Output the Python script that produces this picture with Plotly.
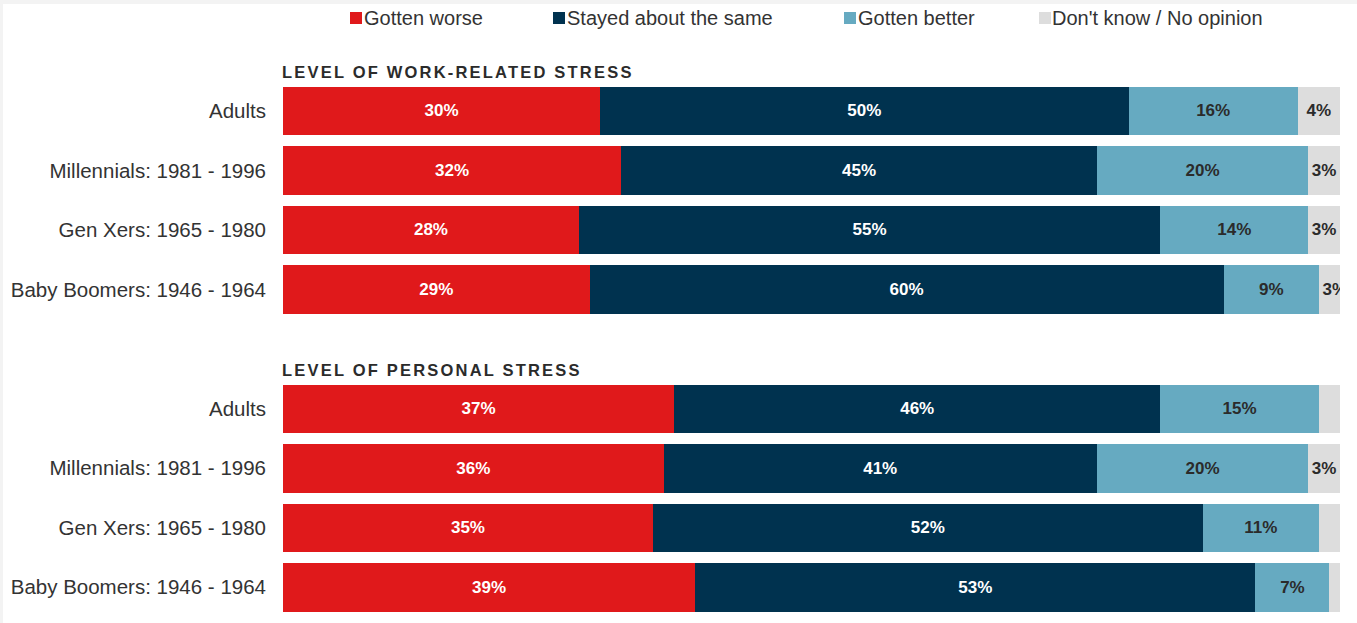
import plotly.graph_objects as go

# ---- data ----
groups = ["Adults", "Millennials: 1981 - 1996", "Gen Xers: 1965 - 1980", "Baby Boomers: 1946 - 1964"]
series_names = ["Gotten worse", "Stayed about the same", "Gotten better", "Don't know / No opinion"]

work_worse = [30, 32, 28, 29]
work_same = [50, 45, 55, 60]
work_better = [16, 20, 14, 9]
work_dk = [4, 3, 3, 3]

personal_worse = [37, 36, 35, 39]
personal_same = [46, 41, 52, 53]
personal_better = [15, 20, 11, 7]
personal_dk = [2, 3, 2, 1]
personal_dk_shown = [False, True, False, False]

panel_titles = ["LEVEL OF WORK-RELATED STRESS", "LEVEL OF PERSONAL STRESS"]

# ---- styling ----
colors = ["#E0191B", "#00324F", "#66AAC1", "#DDDDDD"]
text_colors = ["#FFFFFF", "#FFFFFF", "#2B2B2B", "#2B2B2B"]
FONT = "Liberation Sans, Arial, Helvetica, sans-serif"

W, H = 1357, 623
L, R = 283, 17
plot_w = W - L - R


def px_x(p):
    return (p - L) / plot_w


def px_y(p):
    return 1 - p / H


fig = go.Figure()

work = [work_worse, work_same, work_better, work_dk]
personal = [personal_worse, personal_same, personal_better, personal_dk]

for i, name in enumerate(series_names):
    vals = work[i]
    fig.add_trace(go.Bar(
        y=groups, x=vals, orientation="h", name=name,
        marker=dict(color=colors[i], line=dict(width=0)),
        text=[f"{v}%" for v in vals], textposition="inside",
        insidetextanchor="middle", textangle=0, constraintext="none",
        textfont=dict(family=FONT, size=17, color=text_colors[i], weight="bold"),
        xaxis="x", yaxis="y", showlegend=False, hoverinfo="skip",
    ))
    vals = personal[i]
    if i == 3:
        labels = [f"{v}%" if s else "" for v, s in zip(vals, personal_dk_shown)]
    else:
        labels = [f"{v}%" for v in vals]
    fig.add_trace(go.Bar(
        y=groups, x=vals, orientation="h", name=name,
        marker=dict(color=colors[i], line=dict(width=0)),
        text=labels, textposition="inside",
        insidetextanchor="middle", textangle=0, constraintext="none",
        textfont=dict(family=FONT, size=17, color=text_colors[i], weight="bold"),
        xaxis="x2", yaxis="y2", showlegend=False, hoverinfo="skip",
    ))

yaxis_common = dict(
    categoryorder="array", categoryarray=groups, autorange="reversed",
    showgrid=False, zeroline=False, showline=False, ticks="",
    tickfont=dict(family=FONT, size=20.5, color="#333333"),
    ticklabelstandoff=16,
)
xaxis_common = dict(range=[0, 100], visible=False, fixedrange=True)

# ---- legend drawn across the top ----
legend_items = [(350, 362), (553, 565), (844, 856), (1039, 1050)]
shapes = []
annotations = []
for (sq_x, tx_x), name, c in zip(legend_items, series_names, colors):
    shapes.append(dict(type="rect", xref="paper", yref="paper",
                       x0=px_x(sq_x), x1=px_x(sq_x + 12), y0=px_y(24), y1=px_y(12),
                       fillcolor=c, line=dict(width=0)))
    annotations.append(dict(text=name, xref="paper", yref="paper",
                            x=px_x(tx_x), y=px_y(18), xanchor="left", yanchor="middle",
                            showarrow=False,
                            font=dict(family=FONT, size=20, color="#333333")))

for title, cy in zip(panel_titles, [72, 370]):
    annotations.append(dict(text=title, xref="paper", yref="paper",
                            x=px_x(280), y=px_y(cy), xanchor="left", yanchor="middle",
                            showarrow=False,
                            font=dict(family=FONT, size=16.5, color="#2B2B2B", weight="bold")))

# thin grey frame along the top and left edges
shapes.append(dict(type="rect", xref="paper", yref="paper", x0=px_x(0), x1=px_x(W),
                   y0=px_y(4), y1=1, fillcolor="#F3F3F3", line=dict(width=0), layer="below"))
shapes.append(dict(type="rect", xref="paper", yref="paper", x0=px_x(0), x1=px_x(3),
                   y0=0, y1=1, fillcolor="#F3F3F3", line=dict(width=0), layer="below"))

fig.update_layout(
    width=W, height=H,
    margin=dict(l=L, r=R, t=0, b=0, pad=0),
    barmode="stack", bargap=0.185,
    paper_bgcolor="#FFFFFF", plot_bgcolor="#FFFFFF",
    xaxis=dict(domain=[0, 1], anchor="y", **xaxis_common),
    xaxis2=dict(domain=[0, 1], anchor="y2", **xaxis_common),
    yaxis=dict(domain=[px_y(319.2), px_y(81.2)], anchor="x", **yaxis_common),
    yaxis2=dict(domain=[px_y(617.0), px_y(379.0)], anchor="x2", **yaxis_common),
    shapes=shapes, annotations=annotations,
    showlegend=False,
    font=dict(family=FONT),
)

# widen the tracking of the section headings while keeping their left edge fixed
spacing_js = """
document.querySelectorAll('.annotation-text').forEach(function(t){
  if (t.textContent.indexOf('LEVEL OF') === 0) {
    var bb = t.getBBox();
    t.setAttribute('text-anchor', 'start');
    t.setAttribute('x', bb.x);
    t.style.letterSpacing = '2.2px';
  }
});
"""

fig.write_html("out.html", post_script=spacing_js, config={"displayModeBar": False})
